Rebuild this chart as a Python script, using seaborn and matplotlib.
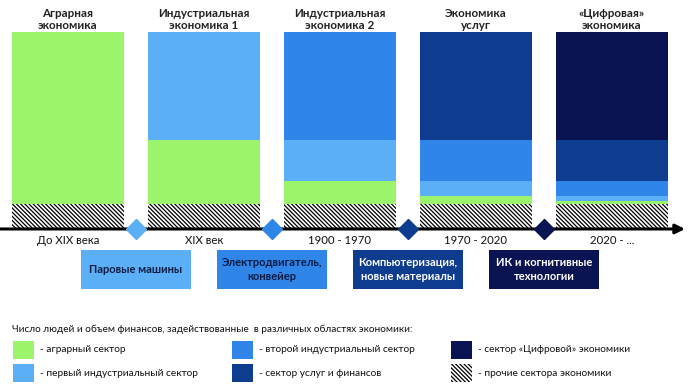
import matplotlib
matplotlib.use("Agg")
import matplotlib.pyplot as plt
from matplotlib.patches import Rectangle
import seaborn as sns
import pandas as pd

# --- data -----------------------------------------------------------------
eras = ["Аграрная\nэкономика", "Индустриальная\nэкономика 1", "Индустриальная\nэкономика 2",
        "Экономика\nуслуг", "«Цифровая»\nэкономика"]
periods = ["До XIX века", "XIX век", "1900 - 1970", "1970 - 2020", "2020 - ..."]
technologies = ["Паровые машины", "Электродвигатель,\nконвейер",
                "Компьютеризация,\nновые материалы", "ИК и когнитивные\nтехнологии"]

# доли (в %) в каждой эпохе, снизу вверх
other = [12, 12, 12, 12, 12]
agrarian = [88, 33, 12, 4.5, 2]
industrial1 = [0, 55, 21, 7.5, 2.5]
industrial2 = [0, 0, 55, 21, 7.5]
services = [0, 0, 0, 55, 21]
digital = [0, 0, 0, 0, 55]

sector_names = ["- аграрный сектор", "- первый индустриальный сектор",
                "- второй индустриальный сектор", "- сектор услуг и финансов",
                "- сектор «Цифровой» экономики", "- прочие сектора экономики"]
legend_title = "Число людей и объем финансов, задействованные  в различных областях экономики:"

GREEN = "#9cf46c"
LIGHT = "#5aaff6"
MID = "#2f86e8"
NAVY = "#0e3c8e"
DARK = "#0b1452"
HATCH = "\\" * 8

plt.rcParams["hatch.linewidth"] = 0.9
sns.set_style("white")
plt.rcParams["font.family"] = ["Lato", "DejaVu Sans"]

df = pd.DataFrame({"period": periods, "other": other, "agr": agrarian,
                   "ind1": industrial1, "ind2": industrial2,
                   "serv": services, "dig": digital})

fig = plt.figure(figsize=(6.88, 3.87), dpi=100)
ax = fig.add_axes([0, 0, 1, 1])

bw = 112 / 136
sns.barplot(data=df, x="period", y="other", color="white", hatch=HATCH,
            edgecolor="black", linewidth=0, saturation=1, width=bw, ax=ax)
bottom = df["other"].copy()
for col, c in [("agr", GREEN), ("ind1", LIGHT), ("ind2", MID),
               ("serv", NAVY), ("dig", DARK)]:
    sns.barplot(data=df, x="period", y=col, bottom=bottom, color=c,
                linewidth=0, saturation=1, width=bw, ax=ax)
    bottom = bottom + df[col]

ax.set_xlim(-0.5, 620 / 136)
ax.set_ylim((228 - 387) / 1.96, 228 / 1.96)
ax.axis("off")

# ось времени со стрелкой
ax.annotate("", xy=(617 / 136, -0.5), xytext=(-0.5, -0.5),
            arrowprops=dict(arrowstyle="-|>", lw=2.2, color="black",
                            mutation_scale=14, shrinkA=0, shrinkB=0))

for i, c in enumerate([LIGHT, MID, NAVY, DARK]):
    ax.plot(i + 0.5, -0.5, marker="D", ms=10.5, color=c, zorder=5, clip_on=False)

for i, (era, per) in enumerate(zip(eras, periods)):
    ax.text(i, 106.4, era, ha="center", va="center", fontsize=8.4, color="#222222",
            fontweight="bold", linespacing=1.15)
    ax.text(i, -6.4, per, ha="center", va="center", fontsize=8.2, color="#111111")

box_colors = [LIGHT, MID, NAVY, DARK]
text_colors = ["#0c1c45", "#0c1c45", "white", "white"]
for i, (tech, bc, tc) in enumerate(zip(technologies, box_colors, text_colors)):
    ax.add_patch(Rectangle((i + 0.5 - 0.408, -31.1), 0.816, 19.9,
                           facecolor=bc, edgecolor="none"))
    ax.text(i + 0.5, -21.2, tech, ha="center", va="center", fontsize=8,
            color=tc, fontweight="bold", linespacing=1.25)


# --- легенда (в пикселях фигуры) -------------------------------------------
def fx(x):
    return x / 688


def fy(y):
    return 1 - y / 387


fig.text(fx(12), fy(329), legend_title, ha="left", va="center", fontsize=7.2,
         color="#111111")
swatches = [GREEN, LIGHT, MID, NAVY, DARK, None]
col_x = [13, 232, 451]
row_y = [341, 364]
for k, (name, c) in enumerate(zip(sector_names, swatches)):
    cx = col_x[k // 2]
    ry = row_y[k % 2]
    if c is None:
        r = Rectangle((fx(cx), fy(ry + 18)), fx(21), 18 / 387, transform=fig.transFigure,
                      facecolor="white", edgecolor="black", linewidth=0, hatch=HATCH)
    else:
        r = Rectangle((fx(cx), fy(ry + 18)), fx(21), 18 / 387, transform=fig.transFigure,
                      facecolor=c, edgecolor="none")
    fig.add_artist(r)
    fig.text(fx(cx + 27), fy(ry + 9), name, ha="left", va="center", fontsize=7.3,
             color="#111111")

fig.savefig("out.png", dpi=100)
